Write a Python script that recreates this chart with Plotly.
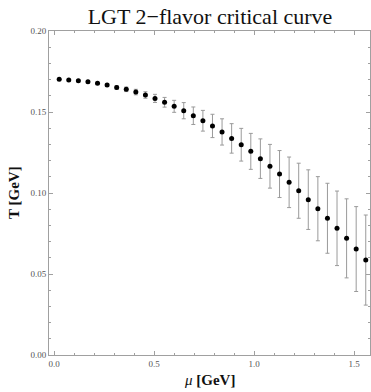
import plotly.graph_objects as go

mu = [0.026 + 0.0479 * k for k in range(33)]
mu = [round(m, 4) for m in mu]
T = [0.1702, 0.1698, 0.1693, 0.1687, 0.1677, 0.1667, 0.1652, 0.1640, 0.1623, 0.1605,
     0.1584, 0.1560, 0.1535, 0.1508, 0.1477, 0.1446, 0.1414, 0.1377, 0.1337, 0.1298,
     0.1257, 0.1212, 0.1165, 0.1117, 0.1066, 0.1014, 0.0959, 0.0903, 0.0844, 0.0782,
     0.0720, 0.0654, 0.0586]
T_err = [0.0002, 0.0003, 0.0004, 0.0005, 0.0007, 0.0009, 0.0011, 0.0014, 0.0017, 0.0020,
         0.0025, 0.0030, 0.0037, 0.0050, 0.0054, 0.0064, 0.0072, 0.0081, 0.0091, 0.0101,
         0.0111, 0.0122, 0.0135, 0.0145, 0.0156, 0.0170, 0.0184, 0.0198, 0.0216, 0.0230,
         0.0244, 0.0262, 0.0278]

x_ticks = [0.0, 0.5, 1.0, 1.5]
x_ticklabels = ["0.0", "0.5", "1.0", "1.5"]
y_ticks = [0.00, 0.05, 0.10, 0.15, 0.20]
y_ticklabels = ["0.00", "0.05", "0.10", "0.15", "0.20"]

fig = go.Figure()
fig.add_trace(go.Scatter(
    x=mu, y=T, mode="markers",
    marker=dict(symbol="circle", size=5, color="black"),
    error_y=dict(type="data", array=T_err, visible=True, color="#9a9a9a",
                 thickness=1, width=2),
    showlegend=False,
))

axis_common = dict(
    showgrid=False, zeroline=False, showline=True, linecolor="#a0a0a0", linewidth=1,
    mirror="ticks", ticks="inside", ticklen=4, tickcolor="#a0a0a0", tickwidth=1,
    tickfont=dict(family="Liberation Serif", size=9, color="#555555"),
)

fig.update_layout(
    width=371, height=392,
    margin=dict(l=49, r=1, t=31, b=37),
    paper_bgcolor="white", plot_bgcolor="white",
    title=dict(text="LGT 2\u2212flavor critical curve", x=210 / 371,
               xanchor="center", y=1 - 16 / 392, yanchor="middle", yref="container",
               font=dict(family="Liberation Serif", size=22, color="#111111")),
    xaxis=dict(range=[-0.025, 1.58], tickvals=x_ticks, ticktext=x_ticklabels,
               minor=dict(dtick=0.1, tick0=0, ticks="inside", ticklen=2,
                          tickcolor="#a0a0a0"),
               **axis_common),
    yaxis=dict(range=[0, 0.2], tickvals=y_ticks, ticktext=y_ticklabels,
               minor=dict(dtick=0.01, tick0=0, ticks="inside", ticklen=2,
                          tickcolor="#a0a0a0"),
               **axis_common),
    annotations=[
        dict(text="<i>\u03bc</i> <b>[GeV]</b>", xref="paper", yref="paper", x=0.5,
             y=-25 / 324, xanchor="center", yanchor="middle", showarrow=False,
             font=dict(family="Liberation Serif", size=15, color="#111111")),
        dict(text="<b>T [GeV]</b>", xref="paper", yref="paper", x=-35 / 321,
             y=0.5, xanchor="center", yanchor="middle", showarrow=False, textangle=-90,
             font=dict(family="Liberation Serif", size=15, color="#111111")),
    ],
)

fig.write_html("out.html")
